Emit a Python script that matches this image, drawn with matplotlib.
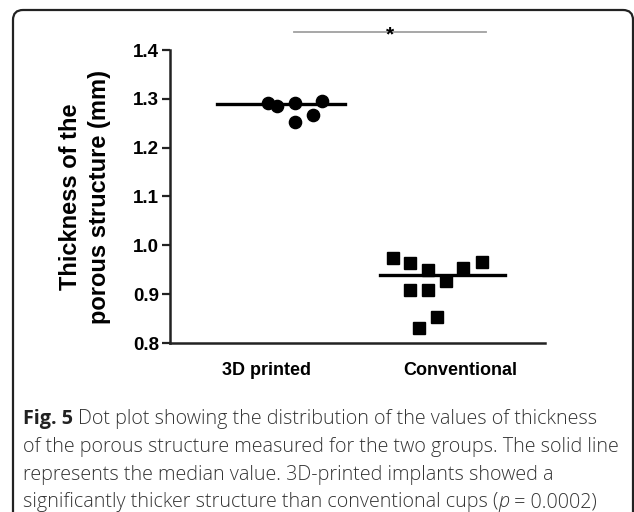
import matplotlib
matplotlib.use('Agg')
import matplotlib.pyplot as plt
import numpy as np
from matplotlib.patches import FancyBboxPatch
from matplotlib.transforms import IdentityTransform

# data
groups = ['3D printed', 'Conventional']
group_pos = [1, 2]

printed_x = [1.010, 1.057, 1.149, 1.149, 1.242, 1.289]
printed_y = [1.292, 1.286, 1.292, 1.253, 1.267, 1.296]

conv_x = [1.655, 1.742, 1.835, 1.928, 2.015, 2.113, 1.742, 1.835, 1.789, 1.881]
conv_y = [0.974, 0.964, 0.950, 0.927, 0.954, 0.966, 0.909, 0.909, 0.831, 0.853]

median_span = [(0.747, 1.407), (1.588, 2.232)]
sig_span = (1.144, 2.134)
sig_y = 1.437

yticks = [0.8, 0.9, 1.0, 1.1, 1.2, 1.3, 1.4]

caption = [
    "Dot plot showing the distribution of the values of thickness",
    "of the porous structure measured for the two groups. The solid line",
    "represents the median value. 3D-printed implants showed a",
    "significantly thicker structure than conventional cups (",
]

W, H = 634, 512
fig = plt.figure(figsize=(W / 100, H / 100), dpi=100)
fig.patch.set_facecolor('white')

ax = fig.add_axes([170 / W, 1 - 343 / H, 375 / W, 293 / H])
ax.set_xlim(0.505, 2.438)
ax.set_ylim(0.8, 1.4)

ax.plot(printed_x, printed_y, 'o', color='black', markersize=8.8, clip_on=False)
ax.plot(conv_x, conv_y, 's', color='black', markersize=8.2, clip_on=False)

meds = [np.median(printed_y), np.median(conv_y)]
for (x0, x1), m in zip(median_span, meds):
    ax.plot([x0, x1], [m, m], color='black', lw=2.4, zorder=1)

# significance bar
ax.plot(sig_span, [sig_y, sig_y], color='#a0a0a0', lw=1.3, clip_on=False)
ax.text(np.mean(sig_span), sig_y - 0.006, '*', ha='center', va='center',
        fontsize=15, fontweight='bold', family='Liberation Sans')

for s in ['top', 'right']:
    ax.spines[s].set_visible(False)
for s in ['left', 'bottom']:
    ax.spines[s].set_linewidth(1.8)
    ax.spines[s].set_color('#222222')

ax.set_yticks(yticks)
ax.set_yticklabels([f'{v:.1f}' for v in yticks], fontsize=13.5,
                   fontweight='bold', family='Liberation Sans')
ax.tick_params(axis='y', length=6, width=1.6, pad=2, color='#222222')
ax.set_xticks(group_pos)
ax.set_xticklabels(groups, fontsize=13, fontweight='bold', family='Liberation Sans')
ax.tick_params(axis='x', length=0, pad=14)

ax.set_ylabel('Thickness of the\nporous structure (mm)', fontsize=17,
              fontweight='bold', family='Liberation Sans', labelpad=16,
              linespacing=1.3)

# rounded frame, open at the bottom
frame = FancyBboxPatch((13, -40), 620, H - 10 + 40,
                       boxstyle='round,pad=0,rounding_size=10',
                       transform=IdentityTransform(), fill=False,
                       edgecolor='#222222', lw=1.6)
fig.patches.append(frame)

# caption
renderer = fig.canvas.get_renderer()
cap_color = '#333333'
cap_font = 'Open Sans'
cap_size = 14.2
x0 = 23
base_y = [424, 452, 480, 507]

t = fig.text(x0 / W, 1 - base_y[0] / H, 'Fig. 5', fontsize=cap_size,
             fontweight='bold', family=cap_font, color='#222222', va='baseline')
w = t.get_window_extent(renderer).width
fig.text((x0 + w + 5) / W, 1 - base_y[0] / H, caption[0], fontsize=cap_size,
         family=cap_font, color=cap_color, va='baseline', fontweight='light')
for line, y in zip(caption[1:], base_y[1:]):
    t = fig.text(x0 / W, 1 - y / H, line, fontsize=cap_size, family=cap_font,
                 color=cap_color, va='baseline', fontweight='light')
w = t.get_window_extent(renderer).width
t = fig.text((x0 + w) / W, 1 - base_y[3] / H, 'p', fontsize=cap_size,
             family=cap_font, style='italic', color=cap_color, va='baseline',
             fontweight='light')
w2 = t.get_window_extent(renderer).width
fig.text((x0 + w + w2) / W, 1 - base_y[3] / H, ' = 0.0002)', fontsize=cap_size,
         family=cap_font, color=cap_color, va='baseline', fontweight='light')

fig.savefig('out.png', dpi=100)
